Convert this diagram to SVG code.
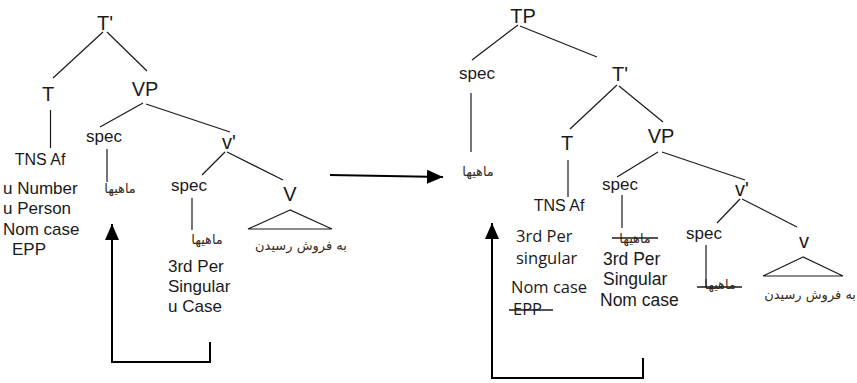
<svg xmlns="http://www.w3.org/2000/svg" width="857" height="383" viewBox="0 0 857 383">
<style>
  .lbl { font-family: "Liberation Sans", Arial, sans-serif; fill: #1a1a1a; }
  .big { font-size: 20px; }
  .mid { font-size: 17px; }
  .tns { font-size: 16px; }
  .feat { font-size: 17px; }
  .feat2 { font-size: 17.5px; }
  .cal { font-family: "Open Sans", "Liberation Sans", sans-serif; font-size: 16.5px; fill: #1a1a1a; }
  .fa { font-family: "DejaVu Sans", "Noto Sans", sans-serif; font-size: 13px; fill: #3a2a1a; }
  .edge { stroke: #1a1a1a; stroke-width: 1.2; fill: none; }
  .strike { stroke: #1a1a1a; stroke-width: 1.3; }
  .move { stroke: #000; stroke-width: 2; fill: none; }
</style>
<defs>
  <marker id="ah" markerUnits="userSpaceOnUse" markerWidth="17" markerHeight="15" refX="16" refY="7" orient="auto">
    <path d="M0,0 L16,7 L0,14 z" fill="#000"/>
  </marker>
</defs>
<rect width="857" height="383" fill="#fff"/>

<g id="connectors">
  <!-- left tree -->
  <line class="edge" x1="103" y1="32" x2="53" y2="78"/>
  <line class="edge" x1="107" y1="32" x2="147" y2="71"/>
  <line class="edge" x1="50.5" y1="110" x2="50.5" y2="148"/>
  <line class="edge" x1="143" y1="103" x2="100" y2="127"/>
  <line class="edge" x1="146" y1="104" x2="230" y2="132"/>
  <line class="edge" x1="107" y1="149" x2="107" y2="182"/>
  <line class="edge" x1="225" y1="152" x2="202" y2="175"/>
  <line class="edge" x1="227" y1="152" x2="283" y2="180"/>
  <line class="edge" x1="192" y1="198" x2="192" y2="230"/>
  <polygon class="edge" points="290,210 248,229 332,229"/>
  <!-- right tree -->
  <line class="edge" x1="518" y1="25" x2="472" y2="60"/>
  <line class="edge" x1="520" y1="26" x2="597" y2="57"/>
  <line class="edge" x1="471" y1="93" x2="471" y2="152"/>
  <line class="edge" x1="617" y1="85" x2="570" y2="129"/>
  <line class="edge" x1="619" y1="86" x2="663" y2="122"/>
  <line class="edge" x1="568" y1="160" x2="568" y2="197"/>
  <line class="edge" x1="658" y1="152" x2="617" y2="177"/>
  <line class="edge" x1="662" y1="152" x2="745" y2="180"/>
  <line class="edge" x1="622" y1="195" x2="622" y2="228"/>
  <line class="edge" x1="740" y1="199" x2="717" y2="223"/>
  <line class="edge" x1="742" y1="199" x2="797" y2="227"/>
  <line class="edge" x1="706" y1="245" x2="706" y2="287"/>
  <polygon class="edge" points="803,257 763,276 843,276"/>
  <!-- movement arrows -->
  <path class="move" d="M210,342 V362 H112 V224" marker-end="url(#ah)"/>
  <line class="move" x1="330" y1="175" x2="443" y2="177" marker-end="url(#ah)"/>
  <path class="move" d="M643,358 V378 H492 V223" marker-end="url(#ah)"/>
</g>

<g id="left-Tbar"><text class="lbl big" x="105" y="30" text-anchor="middle">T'</text></g>
<g id="left-T"><text class="lbl big" x="48" y="101" text-anchor="middle">T</text></g>
<g id="left-VP"><text class="lbl big" x="145" y="96" text-anchor="middle">VP</text></g>
<g id="left-TNS">
  <text class="lbl tns" x="40" y="165" text-anchor="middle">TNS Af</text>
  <text class="lbl feat" x="3" y="194">u Number</text>
  <text class="lbl feat" x="3" y="214">u Person</text>
  <text class="lbl feat" x="3" y="235">Nom case</text>
  <text class="lbl feat" x="12" y="255">EPP</text>
</g>
<g id="left-spec1">
  <text class="lbl mid" x="104" y="142" text-anchor="middle">spec</text>
  <text class="fa" x="120" y="193" text-anchor="middle">ماهیها</text>
</g>
<g id="left-vbar"><text class="lbl big" x="229" y="149" text-anchor="middle">v'</text></g>
<g id="left-spec2">
  <text class="lbl mid" x="189" y="191" text-anchor="middle">spec</text>
  <text class="fa" x="207" y="244" text-anchor="middle">ماهیها</text>
  <text class="lbl feat" x="168" y="272">3rd Per</text>
  <text class="lbl feat" x="168" y="292">Singular</text>
  <text class="lbl feat" x="168" y="312">u Case</text>
</g>
<g id="left-V">
  <text class="lbl big" x="290" y="201" text-anchor="middle">V</text>
  <text class="fa" x="301" y="250" text-anchor="middle">به فروش رسیدن</text>
</g>

<g id="right-TP"><text class="lbl big" x="523" y="23" text-anchor="middle">TP</text></g>
<g id="right-spec">
  <text class="lbl mid" x="477" y="79" text-anchor="middle">spec</text>
  <text class="fa" x="478" y="176" text-anchor="middle">ماهیها</text>
</g>
<g id="right-Tbar"><text class="lbl big" x="620" y="81" text-anchor="middle">T'</text></g>
<g id="right-T">
  <text class="lbl big" x="567" y="150" text-anchor="middle">T</text>
  <text class="lbl tns" x="559" y="211" text-anchor="middle">TNS Af</text>
  <text class="cal" x="516" y="242">3rd Per</text>
  <text class="cal" x="516" y="264">singular</text>
  <text class="cal" x="511" y="293">Nom case</text>
  <text class="cal" x="513" y="315">EPP</text>
  <line class="strike" x1="509" y1="310" x2="553" y2="310"/>
</g>
<g id="right-VP"><text class="lbl big" x="661" y="143" text-anchor="middle">VP</text></g>
<g id="right-spec2">
  <text class="lbl mid" x="620" y="190" text-anchor="middle">spec</text>
  <text class="fa" x="635" y="243" text-anchor="middle">ماهیها</text>
  <line class="strike" x1="612" y1="238" x2="658" y2="238"/>
  <text class="lbl feat2" x="603" y="264.5">3rd Per</text>
  <text class="lbl feat2" x="603" y="285">Singular</text>
  <text class="lbl feat2" x="600" y="305.5">Nom case</text>
</g>
<g id="right-vbar"><text class="lbl big" x="742" y="196" text-anchor="middle">v'</text></g>
<g id="right-spec3">
  <text class="lbl mid" x="704" y="239" text-anchor="middle">spec</text>
  <text class="fa" x="720" y="289" text-anchor="middle">ماهیها</text>
  <line class="strike" x1="697" y1="287" x2="742" y2="287"/>
</g>
<g id="right-v">
  <text class="lbl big" x="804" y="248" text-anchor="middle">v</text>
  <text class="fa" x="856" y="299" text-anchor="end">به فروش رسیدن</text>
</g>
</svg>
